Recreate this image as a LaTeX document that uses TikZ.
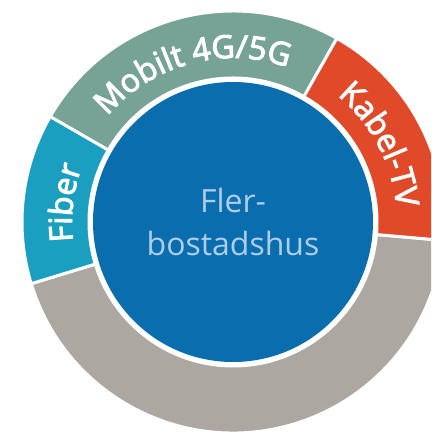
\documentclass[tikz,border=0pt]{standalone}
\usepackage{fontspec}
\setmainfont{Open Sans}
\newfontfamily\ringfont[FakeBold=3]{Open Sans}
\usetikzlibrary{decorations.text}

\definecolor{hubblue}{HTML}{0A6DAD}
\definecolor{hubtext}{HTML}{AECDE8}
\definecolor{fibercol}{HTML}{1A9FC0}
\definecolor{mobilcol}{HTML}{77A397}
\definecolor{kabelcol}{HTML}{E14A29}
\definecolor{restcol}{HTML}{ADA7A1}

\tikzset{
	sector/.style={draw=white, line width=3pt, line join=miter},
	ringlabel/.style={decorate, decoration={text along path, text align=center,
		text color=white, text={|\ringfont\fontsize{32}{32}\selectfont|#1}}}
}

\begin{document}
\begin{tikzpicture}[x=1pt,y=1pt]
	\useasboundingbox (-233,-211) rectangle (198,222);
	\clip (-233,-211) rectangle (198,222);

	% ring sectors
	\draw[sector, fill=restcol] (-5:144) arc[start angle=-5, end angle=-163, radius=144] -- (-163:211) arc[start angle=-163, end angle=-5, radius=211] -- cycle;
	\draw[sector, fill=fibercol] (150:144) arc[start angle=150, end angle=197, radius=144] -- (197:211) arc[start angle=197, end angle=150, radius=211] -- cycle;
	\draw[sector, fill=mobilcol] (60.5:144) arc[start angle=60.5, end angle=150, radius=144] -- (150:211) arc[start angle=150, end angle=60.5, radius=211] -- cycle;
	\draw[sector, fill=kabelcol] (-5:144) arc[start angle=-5, end angle=60.5, radius=144] -- (60.5:211) arc[start angle=60.5, end angle=-5, radius=211] -- cycle;

	% labels on the ring
	\path[ringlabel={Fiber}] (197:161) arc[start angle=197, end angle=150, radius=161];
	\path[ringlabel={Mobilt 4G/5G}] (150:164) arc[start angle=150, end angle=60.5, radius=164];
	\path[ringlabel={Kabel-TV}] (60.5:164) arc[start angle=60.5, end angle=-5, radius=164];

	\node[circle, fill=hubblue, minimum size=280pt, inner sep=0pt, align=center,
		text=hubtext, font=\fontsize{32}{42}\selectfont] (hub) at (0,0) {Fler-\\bostadshus};
\end{tikzpicture}
\end{document}
